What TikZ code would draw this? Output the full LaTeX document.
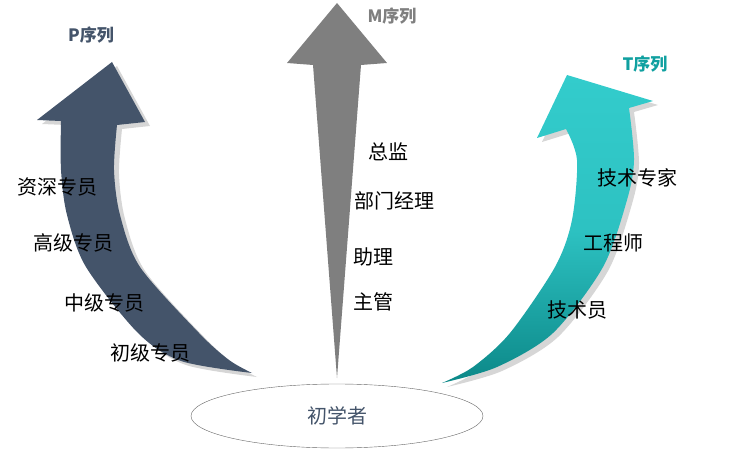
\documentclass[tikz,border=0pt]{standalone}
\usepackage{fontspec}
\setmainfont{Noto Sans CJK SC}
\usetikzlibrary{shapes.geometric}

\definecolor{pseq}{HTML}{44546A}
\definecolor{mseq}{HTML}{7F7F7F}
\definecolor{tseq}{HTML}{33CCCC}
\definecolor{tdark}{HTML}{0C8888}
\definecolor{ttitle}{HTML}{10A0A0}
\definecolor{shadowgray}{HTML}{D6D6D6}

\tikzset{
  lvl/.style={font=\fontsize{20pt}{22pt}\selectfont, text=black, inner sep=0pt},
  seqtitle/.style={font=\fontsize{17pt}{19pt}\selectfont\bfseries, inner sep=0pt},
  shadowcopy/.style={fill=shadowgray, shift={(5,4)}},
  pbody/.style={fill=pseq},
  tbody/.style={top color=tseq, bottom color=tdark, middle color=tseq!85!tdark},
}

\begin{document}
\begin{tikzpicture}[x=1pt,y=-1pt]
\useasboundingbox (0,0) rectangle (736,454);

% P arrow, shadow first
\foreach \st in {shadowcopy, pbody}
  \path[\st] plot[smooth] coordinates {(252,373) (229,360) (199,333) (140,267) (120,215) (114,170) (117,125)}
    -- (145,122) -- (112,62) -- (37,120) -- (61,121)
    -- plot[smooth] coordinates {(61,121) (61,170) (67,215) (86,267) (138,333) (181,361) (252,373)} -- cycle;

% M arrow
\fill[mseq] (337,378) -- (313,65) -- (287,63) -- (337,3) -- (387,63) -- (361,65) -- cycle;

% T arrow
\foreach \st in {shadowcopy, tbody}
  \path[\st] plot[smooth] coordinates {(442,383) (473,367) (510,333) (555,267) (572,220) (577,160) (566,129)}
    -- (537,138) -- (567,75) -- (653,101) -- (629,108)
    -- plot[smooth] coordinates {(629,108) (634,160) (627,200) (603,267) (553,333) (497,367) (442,383)} -- cycle;

% start
\node[ellipse, draw=black!60, thin, minimum width=292pt, minimum height=64pt, inner sep=0pt,
  text=pseq, font=\fontsize{20pt}{22pt}\selectfont] (start) at (337,416) {初学者};

% titles
\node[seqtitle, text=pseq] (ptitle) at (91,35) {P序列};
\node[seqtitle, text=mseq] (mtitle) at (392,16) {M序列};
\node[seqtitle, text=ttitle] (ttitle) at (645,64) {T序列};

% levels
\foreach \t/\x/\y [count=\i] in {资深专员/57/187, 高级专员/73/243, 中级专员/104/303, 初级专员/150/353}
  \node[lvl] (p\i) at (\x,\y) {\t};
\foreach \t/\x/\y [count=\i] in {总监/388/152, 部门经理/394/201, 助理/373/257, 主管/373/302}
  \node[lvl] (m\i) at (\x,\y) {\t};
\foreach \t/\x/\y [count=\i] in {技术专家/637/178, 工程师/613/243, 技术员/577/310}
  \node[lvl] (t\i) at (\x,\y) {\t};
\end{tikzpicture}
\end{document}
